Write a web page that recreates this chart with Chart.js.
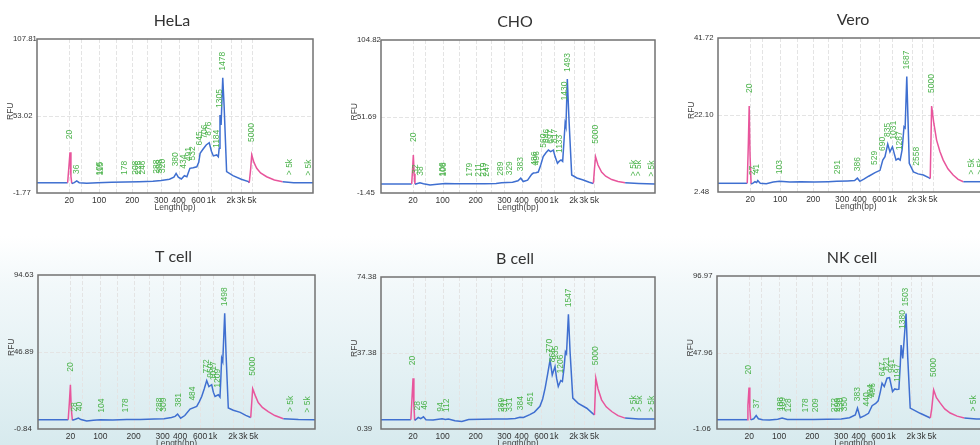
<!DOCTYPE html>
<html><head><meta charset="utf-8">
<script src="https://cdn.jsdelivr.net/npm/chart.js@4"></script>
<style>
html,body{margin:0;padding:0;width:980px;height:445px;overflow:hidden;}
body{position:relative;background:linear-gradient(to bottom,#ffffff 0px,#ffffff 236px,#f2f8fa 285px,#e4f1f4 370px,#d7eaee 445px);}
canvas{position:absolute;}
</style></head><body>
<script>
// ---------- DATA ----------
const panelTitles = ['HeLa', 'CHO', 'Vero', 'T cell', 'B cell', 'NK cell'];

// x axis: migration position (0-100) of size-ladder ticks and their labels
const xTickPos  = [11.7, 16, 22.5, 28.5, 34.5, 40, 45, 51.3, 58.5, 63.1, 70.3, 74, 77.9];
const xTickText = ['20', '', '100', '', '200', '', '300', '400', '600', '1k', '2k', '3k', '5k'];

// y axis ranges and tick labels (RFU)
const helaY = [-1.77, 107.81]; const helaYText = ['-1.77', '53.02', '107.81'];
const choY  = [-1.45, 104.82]; const choYText  = ['-1.45', '51.69', '104.82'];
const veroY = [2.48, 41.72];   const veroYText = ['2.48', '22.10', '41.72'];
const tY    = [-0.84, 94.63];  const tYText    = ['-0.84', '46.89', '94.63'];
const bY    = [0.39, 74.38];   const bYText    = ['0.39', '37.38', '74.38'];
const nkY   = [-1.06, 96.97];  const nkYText   = ['-1.06', '47.96', '96.97'];

// electropherogram traces [position, RFU]
const helaTrace = [[0,5.5],[5,5.5],[11.1,5.5],[11.6,18],[11.96,27.2],[12.3,10],[12.6,5.0],[13.5,5.6],[14.4,6.8],[15.3,5.6],[18,5.2],[22,5.6],[27,5.8],[32,6.0],[37,6.2],[42,6.6],[45,7.2],[48,8.0],[49.6,9.5],[50.4,12.2],[51.2,9.5],[52.3,8.2],[53.4,10.5],[54.3,9.8],[55.4,15.8],[56.6,16.2],[57.9,16.9],[58.6,20],[59.1,26.5],[60.2,29.5],[61.3,32.4],[62.4,34],[63.2,28],[63.9,24.6],[65.1,25.3],[65.7,24],[66.0,30],[66.3,53.7],[66.7,46.6],[67.3,80.3],[67.8,60],[68.7,13.4],[71,10.6],[74,8],[76.6,6.3],[76.9,5.5],[77.4,15],[77.8,25.3],[78.6,20],[79.6,15.8],[81,12.5],[83.2,9.8],[86,7.5],[89,6.3],[93,5.6],[100,5.5]];
const choTrace = [[0,4.8],[6,4.8],[11.2,4.8],[11.5,14],[11.8,24.9],[12.1,12],[12.4,4.6],[13.3,5.2],[14.2,5.6],[15.5,5.0],[17.9,4.1],[20.5,4.6],[23.4,5.2],[27,5.0],[32,4.9],[38,5.0],[42,5.2],[44,5.6],[48,6.0],[50,7.0],[51,8.8],[51.9,6.5],[53.5,7.5],[55,11.5],[55.6,12.4],[56.5,12.6],[57.4,13.1],[58.3,18],[59.2,23.8],[60.2,26.5],[61.1,28.4],[61.9,27.3],[62.9,28.4],[63.5,24],[64.4,19.2],[65.0,20.5],[65.7,21.5],[66.3,20.5],[66.8,35],[67.2,47],[67.5,44.7],[68.0,77.7],[68.6,50],[69.6,11.05],[71.5,9],[73.8,7.6],[76,6.0],[77.5,5.2],[77.9,15],[78.3,23.8],[79.2,18],[80.5,13.1],[82,10.2],[84.2,7.9],[86.5,6.5],[89.1,5.6],[94,5.2],[100,4.8]];
const veroTrace = [[0,4.7],[6,4.7],[10.6,4.7],[11.0,15],[11.3,24.4],[11.6,12],[12.0,4.5],[12.8,4.8],[13.4,5.1],[14.0,4.9],[14.4,5.4],[15.3,4.7],[17.5,4.6],[20,5.0],[22.3,5.2],[26,5.0],[30,5.1],[35,5.0],[40,5.1],[43,5.2],[47,5.3],[49.5,5.4],[50.5,6.0],[51.4,5.2],[53,5.8],[54.6,6.5],[56.9,7.4],[58.7,8.0],[59.7,10.6],[60.5,11.5],[61.5,14.7],[62.3,12.7],[63.2,14.0],[64.5,10.6],[65.3,11.0],[66.0,10.6],[66.7,13.2],[67.4,19.1],[67.8,18.8],[68.4,31.9],[68.8,22],[69.3,9.8],[70.8,7.6],[72.5,7.1],[74.4,6.8],[76.5,6.1],[76.9,5.9],[77.4,24.4],[78.2,20],[79.2,15.7],[80.4,12.8],[81.6,10.6],[83.3,8.4],[85.2,6.8],[87,5.7],[88.9,5.1],[94.9,5.1],[100,5.1]];
const tTrace = [[0,4.9],[6,4.9],[10.9,4.9],[11.3,15],[11.7,26.6],[12.0,12],[12.4,4.6],[13.5,5.2],[14.6,5.9],[15.5,5.0],[17.6,4.1],[20,4.6],[22.5,4.9],[27,4.8],[32,5.0],[37,5.1],[42,5.4],[45.5,5.5],[48.2,6.3],[49.5,7.0],[50.4,8.4],[51.5,5.9],[53,7.5],[54.9,11.5],[57.3,13.2],[58.2,16],[59.1,19.3],[60.0,24],[60.9,29.2],[61.7,25.5],[62.7,26.6],[63.3,22],[63.9,19.3],[65.1,20.4],[65.7,19.0],[66.0,30],[66.3,43.1],[66.7,41],[67.4,70.9],[67.9,45],[68.7,12.2],[70.5,10.8],[73,9.5],[75,7.6],[76.8,6.3],[77.1,14],[77.5,24.1],[78.4,20],[79.5,15.6],[81,12.5],[83.1,9.9],[85.5,7.5],[88.6,5.5],[94,5.0],[100,4.9]];
const bTrace = [[0,4.9],[6,4.9],[10.9,4.9],[11.3,15],[11.7,25.1],[12.0,12],[12.3,4.6],[13.0,5.3],[13.6,6.0],[14.5,5.4],[15.5,6.3],[16.4,4.9],[19,4.8],[22.3,5.4],[23.5,5.0],[24.6,5.2],[27,4.4],[29.5,4.1],[32,5.0],[37,5.1],[42,5.2],[46,5.3],[49,5.5],[50.7,6.1],[52,6.0],[54.3,7.4],[56,8.6],[58,11.4],[59.0,15],[59.9,20.3],[60.8,27],[61.7,34.0],[62.5,26.7],[63.5,30.75],[64.1,25],[64.7,21.1],[65.6,24.0],[66.2,23.5],[66.8,30],[67.3,38.0],[67.7,37],[68.4,56.2],[69.0,38],[70.0,15.4],[72.0,12.9],[75.1,10.5],[77.2,8.0],[77.9,7.2],[78.4,25.1],[79.2,20],[80.5,14.6],[82.2,11.2],[84.2,8.9],[86.5,6.9],[89.1,5.7],[94,5.3],[100,5.2]];
const nkTrace = [[0,4.9],[6,4.9],[10.9,4.9],[11.2,14],[11.6,25.5],[11.9,12],[12.2,4.8],[13.3,5.5],[14.2,7.6],[15.0,5.5],[16.5,4.9],[19,4.7],[22,5.2],[23.6,5.9],[25.5,5.0],[30,5.0],[35,5.1],[40,5.2],[45,5.3],[48,6.2],[50.1,8],[50.9,12.3],[51.9,6.2],[53.5,7.5],[54.9,9.0],[56.2,13.9],[57.5,15.3],[58.4,17],[59.2,22.9],[59.8,28.3],[60.6,26.1],[61.6,31.5],[62.5,31.9],[63.6,22.9],[64.4,24.6],[65.2,24.2],[65.9,24.5],[66.4,40],[66.7,52.7],[67.3,44.2],[68.5,72.9],[69.1,45],[70.0,12.3],[73.6,9.0],[77.3,6.0],[77.8,12],[78.5,24.0],[79.5,19],[80.9,15.5],[82.5,11.8],[84.5,9.2],[87,7.2],[89.6,6.0],[94,5.4],[100,5.3]];

// marker regions (lower 20 bp and upper 5000 bp marker) drawn in pink
const helaMarkers = [[11.1,12.6],[76.9,89]];
const choMarkers  = [[11.2,12.4],[77.5,89.1]];
const veroMarkers = [[10.6,12.0],[76.9,88.9]];
const tMarkers    = [[10.9,12.4],[76.8,88.6]];
const bMarkers    = [[10.9,12.3],[77.9,89.1]];
const nkMarkers   = [[10.9,12.2],[77.3,89.6]];

// peak size calls [label, position]
const helaPeaks = [['20',11.96],['36',14.4],['105',22.6],['115',22.9],['178',31.6],['208',35.6],['226',36.8],['246',38.4],['288',43.3],['308',44.3],['320',45.6],['380',50.4],['434',53.3],['491',54.9],['532',56.5],['645',58.8],['706',60.6],['876',62.3],['1184',65.0],['1305',66.3],['1478',67.3],['5000',77.8],['> 5k',91.7],['> 5k',98.3]];
const choPeaks  = [['20',11.8],['32',12.8],['38',14.5],['106',22.6],['108',22.9],['179',32.2],['211',35.8],['219',37.3],['247',38.6],['289',43.7],['329',47.1],['383',51.0],['486',56.0],['496',56.8],['560',59.2],['646',60.6],['697',62.0],['817',63.4],['1133',65.3],['1430',67.2],['1493',68.0],['5000',78.3],['> 5k',92.3],['> 5k',93.9],['> 5k',98.8]];
const veroPeaks = [['20',11.3],['27',12.6],['41',14.1],['103',22.5],['291',43.4],['386',50.6],['529',56.9],['690',59.7],['835',61.5],['1031',63.5],['1287',65.7],['1687',68.4],['2558',72.0],['5000',77.4],['> 5k',91.9],['> 5k',95.0]];
const tPeaks    = [['20',11.7],['28',13.4],['40',15.0],['104',23.1],['178',31.8],['288',43.8],['309',45.2],['381',50.7],['484',55.7],['772',60.9],['950',62.3],['1017',63.4],['1209',64.7],['1498',67.5],['5000',77.5],['> 5k',91.3],['> 5k',97.2]];
const bPeaks    = [['20',11.7],['28',13.3],['46',15.8],['94',21.8],['112',24.0],['289',44.0],['311',45.3],['331',46.8],['384',51.0],['451',54.7],['770',61.4],['865',62.7],['935',63.6],['1206',65.6],['1547',68.5],['5000',78.4],['> 5k',92.3],['> 5k',94.5],['> 5k',98.8]];
const nkPeaks   = [['20',11.6],['37',14.5],['108',23.2],['109',23.7],['128',25.9],['178',32.2],['209',35.6],['272',42.5],['290',43.7],['330',44.7],['350',46.1],['383',51.1],['440',54.3],['494',55.8],['496',56.5],['647',60.0],['821',61.6],['941',63.2],['1197',65.4],['1380',67.4],['1503',68.5],['5000',78.5],['> 5k',93.0]];

// ---------- LAYOUT / STYLE ----------
const BLUE = '#3f6fd0', PINK = '#e8559c', GREEN = '#4cb34c';
const panels = [
  {title: panelTitles[0], trace: helaTrace, range: helaY, ytext: helaYText, markers: helaMarkers, peaks: helaPeaks, area: {l:37, t:39, r:313, b:193}},
  {title: panelTitles[1], trace: choTrace,  range: choY,  ytext: choYText,  markers: choMarkers,  peaks: choPeaks,  area: {l:381, t:40, r:655, b:193}},
  {title: panelTitles[2], trace: veroTrace, range: veroY, ytext: veroYText, markers: veroMarkers, peaks: veroPeaks, area: {l:718, t:38, r:994, b:192}},
  {title: panelTitles[3], trace: tTrace,    range: tY,    ytext: tYText,    markers: tMarkers,    peaks: tPeaks,    area: {l:38, t:275, r:315, b:429}},
  {title: panelTitles[4], trace: bTrace,    range: bY,    ytext: bYText,    markers: bMarkers,    peaks: bPeaks,    area: {l:381, t:277, r:655, b:429}},
  {title: panelTitles[5], trace: nkTrace,   range: nkY,   ytext: nkYText,   markers: nkMarkers,   peaks: nkPeaks,   area: {l:717, t:276, r:993, b:429}}
];

const XFONT = {family: '"Liberation Sans", Arial, sans-serif', size: 8.5};
const YFONT = {family: '"Liberation Sans", Arial, sans-serif', size: 7.8};

function valueAt(pts, x) {
  for (let i = 1; i < pts.length; i++) {
    if (pts[i][0] >= x) {
      const [x0, y0] = pts[i - 1], [x1, y1] = pts[i];
      return y0 + (y1 - y0) * (x - x0) / ((x1 - x0) || 1);
    }
  }
  return pts[pts.length - 1][1];
}
function curveMax(pts, a, b) {
  let m = Math.max(valueAt(pts, a), valueAt(pts, b));
  pts.forEach(([x, y]) => { if (x >= a && x <= b) m = Math.max(m, y); });
  return m;
}

const decor = {
  id: 'decor',
  beforeDatasetsDraw(chart, args, o) {
    const {ctx, chartArea: a, scales: {x, y}} = chart;
    ctx.save();
    ctx.strokeStyle = '#e4e4e4';
    ctx.lineWidth = 1;
    ctx.setLineDash([4, 2]);
    xTickPos.forEach(v => {
      const px = Math.round(x.getPixelForValue(v)) + 0.5;
      ctx.beginPath(); ctx.moveTo(px, a.top); ctx.lineTo(px, a.bottom); ctx.stroke();
    });
    const my = Math.round(y.getPixelForValue((o.range[0] + o.range[1]) / 2)) + 0.5;
    ctx.beginPath(); ctx.moveTo(a.left, my); ctx.lineTo(a.right, my); ctx.stroke();
    ctx.restore();
  },
  afterDatasetsDraw(chart, args, o) {
    const {ctx, chartArea: a, scales: {x, y}} = chart;
    ctx.save();
    // peak size labels
    ctx.fillStyle = GREEN;
    ctx.font = '8.5px "Liberation Sans", Arial, sans-serif';
    ctx.textAlign = 'left';
    ctx.textBaseline = 'middle';
    o.peaks.forEach(([t, xv]) => {
      const px = x.getPixelForValue(xv);
      const gap = (t === '20' || t === '5000') ? 13 : 7;
      const py = y.getPixelForValue(curveMax(o.trace, xv - 0.5, xv + 0.5)) - gap;
      ctx.save();
      ctx.translate(px, py);
      ctx.rotate(-Math.PI / 2);
      ctx.fillText(t, 0, 0);
      ctx.restore();
    });
    // frame
    ctx.strokeStyle = '#727272';
    ctx.lineWidth = 1.5;
    ctx.strokeRect(a.left, a.top, a.right - a.left, a.bottom - a.top);
    // title
    ctx.fillStyle = '#333';
    ctx.font = '16px Lato, "Open Sans", sans-serif';
    ctx.textAlign = 'center';
    ctx.fillText(o.title, (a.left + a.right) / 2 - 3, a.top - 18);
    // axis titles
    ctx.fillStyle = '#444';
    ctx.font = '8.5px "Liberation Sans", Arial, sans-serif';
    ctx.fillText('Length(bp)', (a.left + a.right) / 2, a.bottom + 14.5);
    const midPx = y.getPixelForValue((o.range[0] + o.range[1]) / 2);
    ctx.save();
    ctx.translate(a.left - 26, midPx + 4);
    ctx.rotate(-Math.PI / 2);
    ctx.textAlign = 'left';
    ctx.fillText('RFU', 0, 0);
    ctx.restore();
    ctx.restore();
  }
};

panels.forEach(p => {
  const A = p.area;
  const cv = document.createElement('canvas');
  const w = A.r - A.l + 50, h = A.b - A.t + 66;
  cv.width = w; cv.height = h;
  cv.style.left = (A.l - 40) + 'px';
  cv.style.top = (A.t - 40) + 'px';
  cv.style.width = w + 'px'; cv.style.height = h + 'px';
  document.body.appendChild(cv);
  const inPink = (x0, x1) => p.markers.some(([s, e]) => x0 >= s - 1e-9 && x1 <= e + 1e-9);
  const mid = (p.range[0] + p.range[1]) / 2;
  new Chart(cv, {
    type: 'line',
    data: {
      datasets: [{
        data: p.trace.map(([x, y]) => ({x, y})),
        borderColor: BLUE,
        borderWidth: 1.5,
        pointRadius: 0,
        tension: 0,
        fill: false,
        segment: { borderColor: c => inPink(c.p0.parsed.x, c.p1.parsed.x) ? PINK : BLUE }
      }]
    },
    options: {
      responsive: false,
      animation: false,
      devicePixelRatio: 1,
      layout: {padding: {top: 40, left: 16, right: 10, bottom: 0}},
      plugins: {
        legend: {display: false},
        tooltip: {enabled: false},
        decor: {title: p.title, trace: p.trace, peaks: p.peaks, range: p.range}
      },
      scales: {
        x: {
          type: 'linear', min: 0, max: 100,
          afterBuildTicks: s => { s.ticks = xTickPos.map(v => ({value: v})); },
          afterFit: s => { s.height = 26; },
          ticks: {
            autoSkip: false, maxRotation: 0, minRotation: 0, padding: 3,
            color: '#333', font: XFONT,
            callback: (v, i) => xTickText[i]
          },
          grid: {display: false, drawTicks: false},
          border: {display: false}
        },
        y: {
          type: 'linear', min: p.range[0], max: p.range[1],
          afterBuildTicks: s => { s.ticks = [{value: p.range[0]}, {value: mid}, {value: p.range[1]}]; },
          afterFit: s => { s.width = 24; },
          ticks: {
            crossAlign: 'far', color: '#333', font: YFONT,
            callback: (v, i) => p.ytext[i]
          },
          grid: {display: false, drawTicks: false},
          border: {display: false}
        }
      }
    },
    plugins: [decor]
  });
});
</script>
</body></html>
